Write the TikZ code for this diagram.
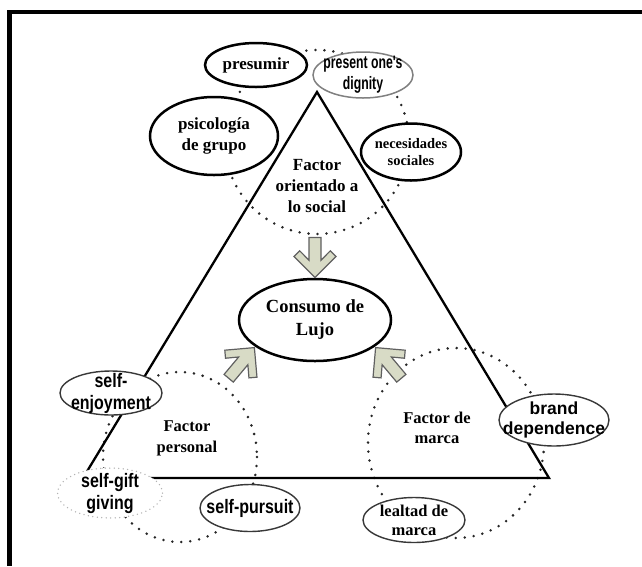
\documentclass[tikz,border=0pt]{standalone}
\usepackage{fontspec}
\setmainfont{Liberation Serif}
\setsansfont{Liberation Sans}
\newfontfamily\narrowsf{Liberation Sans}[FakeStretch=0.82]
\newfontfamily\tightsf{Liberation Sans}[FakeStretch=0.68]
\usetikzlibrary{shapes.geometric,calc}

\definecolor{arrowfill}{RGB}{216,219,198}
\definecolor{arrowedge}{RGB}{96,96,96}

\tikzset{
  ringdots/.style={draw=black!85, line width=2.8pt, line cap=round, dash pattern=on 0pt off 9pt},
  tri/.style={draw=black, line width=2.3pt, line join=miter},
  bubble/.style={ellipse, fill=white, inner sep=0pt, outer sep=0pt},
  heavy/.style={bubble, draw=black, line width=2.5pt},
  thin/.style={bubble, draw=black!78, line width=1.4pt},
  greyrim/.style={bubble, draw=black!50, line width=1.5pt},
  ghost/.style={bubble, draw=black!30, line width=1.5pt, line cap=round, dash pattern=on 0pt off 4.5pt},
  serifbig/.style={font=\fontsize{18.5}{23}\selectfont\bfseries, align=center, inner sep=0pt},
  serifmid/.style={font=\fontsize{17}{21}\selectfont\bfseries, align=center, inner sep=0pt},
  serifsmall/.style={font=\fontsize{14.5}{17.5}\selectfont\bfseries, align=center, inner sep=0pt},
  sanslbl/.style={font=\fontsize{19.5}{22}\selectfont\narrowsf\bfseries, align=center, inner sep=0pt},
  flowarrow/.style={fill=arrowfill, draw=arrowedge, line width=1.2pt, line join=miter}
}

% block arrow pointing along +x, tip at the origin
\newcommand{\flowshape}{(0pt,0pt) -- (-21pt,21pt) -- (-26.7pt,15.3pt) -- (-17.3pt,6pt)
  -- (-40pt,6pt) -- (-40pt,-6pt) -- (-17.3pt,-6pt) -- (-26.7pt,-15.3pt) -- (-21pt,-21pt) -- cycle}

\begin{document}
\begin{tikzpicture}[x=1pt, y=-1pt]
\useasboundingbox (0,0) rectangle (642,566);

% frame on the top and left
\draw[line width=4.2pt] (642,12) -- (9.5,12) -- (9.5,566);

% dotted rings of the three factors
\draw[ringdots] (317,142) circle [radius=92];
\draw[ringdots] (180,457) ellipse [x radius=77, y radius=85];
\draw[ringdots] (456,443) ellipse [x radius=88, y radius=95];

% triangle
\coordinate (apex) at (317,92);
\coordinate (bl) at (83,478);
\coordinate (br) at (549,478);
\draw[tri] (apex) -- (br) -- (bl) -- cycle;

% factor titles
\node[serifmid] (tsocial) at (317,186) {Factor\\orientado a\\lo social};
\node[font=\fontsize{16.5}{21}\selectfont\bfseries, align=center, inner sep=0pt] (tpersonal) at (187,438) {Factor\\personal};
\node[font=\fontsize{16.5}{20}\selectfont\bfseries, align=center, inner sep=0pt] (tmarca) at (437,428) {Factor de\\marca};

% social factor bubbles
\node[heavy, minimum width=102pt, minimum height=44pt] (presumir) at (256,65) {};
\node[font=\fontsize{17}{20}\selectfont\bfseries, inner sep=0pt] (presumir-t) at (presumir) {presumir};
\node[greyrim, minimum width=100pt, minimum height=46pt] (dignity) at (363,75) {};
\node[font=\fontsize{18}{21}\selectfont\tightsf\bfseries, align=center, inner sep=0pt] (dignity-t) at (dignity) {present one's\\dignity};
\node[heavy, minimum width=128pt, minimum height=78pt] (grupo) at (214,136) {};
\node[serifmid] (grupo-t) at (grupo) {psicología\\de grupo};
\node[heavy, minimum width=100pt, minimum height=57pt] (sociales) at (411,152) {};
\node[serifsmall] (sociales-t) at (sociales) {necesidades\\sociales};

% personal factor bubbles
\node[thin, minimum width=102pt, minimum height=44pt] (enjoy) at (111,393) {};
\node[sanslbl] (enjoy-t) at (enjoy) {self-\\enjoyment};
\node[ghost, minimum width=105pt, minimum height=50pt] (gift) at (110,493) {};
\node[sanslbl] (gift-t) at (gift) {self-gift\\giving};
\node[thin, minimum width=100pt, minimum height=47pt] (pursuit) at (250,508) {};
\node[sanslbl] (pursuit-t) at (pursuit) {self-pursuit};

% brand factor bubbles
\node[thin, minimum width=102pt, minimum height=45pt] (lealtad) at (414,520) {};
\node[font=\fontsize{16.5}{19}\selectfont\bfseries, align=center, inner sep=0pt] (lealtad-t) at (lealtad) {lealtad de\\marca};
\node[thin, minimum width=110pt, minimum height=52pt] (brand) at (554,420) {};
\node[font=\fontsize{17.5}{20}\selectfont\sffamily\bfseries, align=center, inner sep=0pt] (brand-t) at (brand) {brand\\dependence};

% central bubble
\node[heavy, minimum width=152pt, minimum height=82pt] (cons) at (315,320) {};
\node[serifbig] (cons-t) at (cons) {Consumo de\\Lujo};

% block arrows into the central bubble
\path (cons.north) ++(0,-1.5) coordinate (tipsocial);
\path (cons.204) ++(-2,1.5) coordinate (tippersonal);
\path (cons.336) ++(2,1.5) coordinate (tipmarca);
\draw[flowarrow, shift={(tipsocial)}, rotate=-90] \flowshape;
\draw[flowarrow, shift={(tippersonal)}, rotate=50] \flowshape;
\draw[flowarrow, shift={(tipmarca)}, rotate=130] \flowshape;
\end{tikzpicture}
\end{document}
